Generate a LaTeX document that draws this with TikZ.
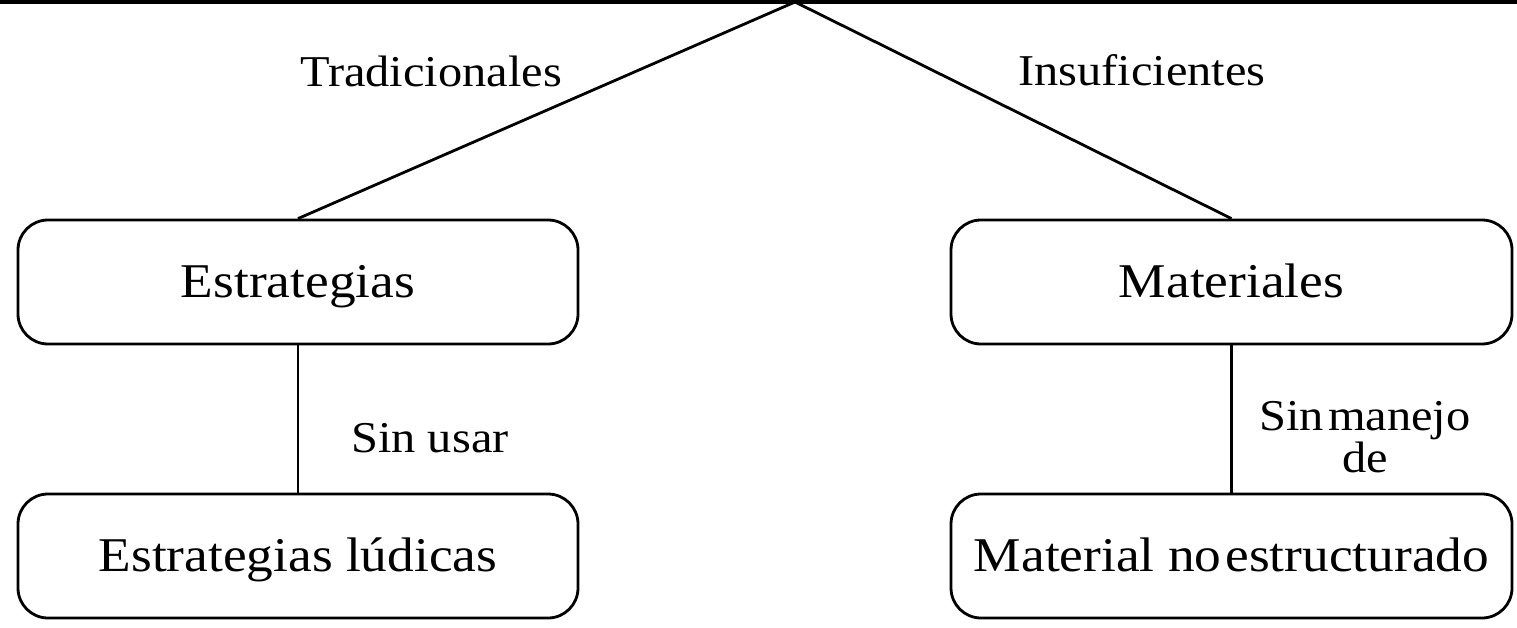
\documentclass[tikz,border=0pt]{standalone}
\usepackage{fontspec}
\setmainfont[FakeStretch=1.1]{Liberation Serif}
\begin{document}
\begin{tikzpicture}[x=1pt,y=-1pt,
  box/.style={draw,line width=2.8pt,rounded corners=30pt,minimum width=560pt,minimum height=124pt,inner sep=0pt,text height=36pt,text depth=6pt,font=\fontsize{48.5}{54}\selectfont},
  lbl/.style={inner sep=0pt,anchor=base,font=\fontsize{44}{42}\selectfont,align=center},
  conn/.style={line width=2.8pt}]
\useasboundingbox (0,0) rectangle (1517,628);
\draw[line width=3.2pt] (0,2) -- (1517,2);
\coordinate (apex) at (795,2);
\node[box] (est) at (298,282) {Estrategias};
\node[box,minimum width=561pt] (mat) at (1231.5,282) {Materiales};
\node[box] (ludicas) at (298,556) {Estrategias lúdicas};
\node[box,minimum width=561pt] (noest) at (1231.5,556) {Material no\hspace{4pt}estructurado};
\draw[conn] (apex) -- (est.north);
\draw[conn] (apex) -- (mat.north);
\draw[conn] (est) -- (ludicas);
\draw[conn] (mat) -- (noest);
\node[lbl] (trad) at (431,87) {Tradicionales};
\node[lbl] (insu) at (1142,86) {Insuficientes};
\node[lbl] (sinusar) at (430,452) {Sin usar};
\node[lbl] (sinmanejo) at (1365,472) {Sin\hspace{4pt}manejo\\de};
\end{tikzpicture}
\end{document}
